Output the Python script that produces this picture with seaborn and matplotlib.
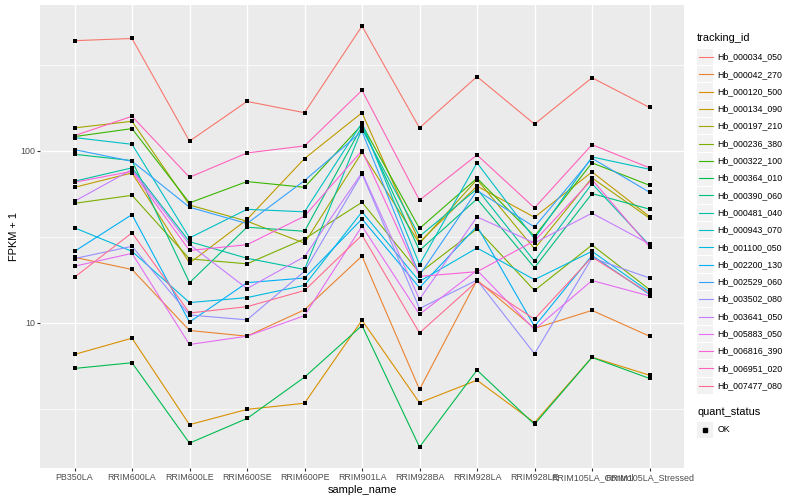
import numpy as np
import pandas as pd
import seaborn as sns
import matplotlib.pyplot as plt
from matplotlib.ticker import FixedLocator, NullFormatter
from matplotlib.patches import Rectangle
from matplotlib.lines import Line2D

plt.rcParams['font.family'] = ['Liberation Sans', 'DejaVu Sans']

samples = ["PB350LA", "RRIM600LA", "RRIM600LE", "RRIM600SE", "RRIM600PE",
           "RRIM901LA", "RRIM928BA", "RRIM928LA", "RRIM928LE",
           "RRIM105LA_Control", "RRIM105LA_Stressed"]

tracking_ids = ["Hb_000034_050", "Hb_000042_270", "Hb_000120_500", "Hb_000134_090",
                "Hb_000197_210", "Hb_000236_380", "Hb_000322_100", "Hb_000364_010",
                "Hb_000390_060", "Hb_000481_040", "Hb_000943_070", "Hb_001100_050",
                "Hb_002200_130", "Hb_002529_060", "Hb_003502_080", "Hb_003641_050",
                "Hb_005883_050", "Hb_006816_390", "Hb_006951_020", "Hb_007477_080"]

# FPKM + 1 per sample
hb_000034_050 = [435, 448, 113.5, 193, 166, 529, 135.5, 269, 142.5, 265, 178]
hb_000042_270 = [24.0, 20.4, 9.02, 8.36, 11.9, 24.4, 4.10, 17.7, 9.27, 11.8, 8.36]
hb_000120_500 = [6.55, 8.14, 2.56, 3.14, 3.41, 10.35, 3.43, 4.64, 2.63, 6.31, 4.96]
hb_000134_090 = [61.2, 74.2, 22.2, 39.8, 89.9, 166, 29.4, 62.2, 41.0, 75.2, 41.4]
hb_000197_210 = [135.5, 148, 48.3, 38.9, 29.0, 97.7, 28.9, 67.9, 26.9, 69.4, 40.5]
hb_000236_380 = [49.4, 55.0, 23.5, 22.0, 30.7, 50.1, 19.5, 35.1, 15.4, 28.3, 15.6]
hb_000322_100 = [120.6, 134.2, 49.7, 66.1, 61.2, 141.6, 35.3, 69.1, 31.8, 84.9, 62.9]
hb_000364_010 = [5.43, 5.86, 2.00, 2.78, 4.83, 9.64, 1.90, 5.31, 2.57, 6.29, 4.75]
hb_000390_060 = [95.2, 87.5, 17.1, 35.9, 34.0, 138.4, 26.3, 52.4, 20.9, 56.3, 45.7]
hb_000481_040 = [66.4, 79.4, 29.6, 23.7, 20.4, 133.6, 31.8, 59.9, 22.8, 64.3, 28.2]
hb_000943_070 = [119.0, 108.8, 31.1, 45.6, 44.1, 144.8, 21.8, 84.9, 30.8, 91.9, 77.9]
hb_001100_050 = [35.6, 26.0, 13.1, 14.0, 16.5, 44.1, 17.4, 27.2, 17.8, 26.0, 15.1]
hb_002200_130 = [26.0, 42.5, 10.1, 17.1, 18.2, 40.1, 16.0, 36.4, 9.52, 24.6, 14.6]
hb_002529_060 = [101.3, 86.7, 46.9, 37.7, 67.0, 129.4, 18.9, 58.6, 36.0, 90.2, 57.3]
hb_003502_080 = [23.6, 27.8, 11.1, 10.4, 19.9, 73.5, 12.1, 17.7, 6.61, 23.8, 18.2]
hb_003641_050 = [50.8, 77.6, 28.5, 15.8, 24.2, 74.5, 13.7, 41.2, 29.1, 43.3, 28.7]
hb_005883_050 = [21.3, 25.3, 7.48, 8.36, 11.0, 36.4, 11.2, 20.2, 9.14, 17.6, 14.3]
hb_006816_390 = [65.5, 75.8, 26.3, 28.4, 41.6, 100, 18.6, 19.8, 29.9, 67.9, 27.6]
hb_006951_020 = [122.2, 158.2, 70.0, 96.9, 106.5, 224, 51.5, 94.4, 46.5, 108.3, 79.4]
hb_007477_080 = [18.4, 33.3, 11.4, 12.4, 15.4, 32.3, 8.73, 17.4, 10.5, 24.1, 14.8]

series = [hb_000034_050, hb_000042_270, hb_000120_500, hb_000134_090, hb_000197_210,
          hb_000236_380, hb_000322_100, hb_000364_010, hb_000390_060, hb_000481_040,
          hb_000943_070, hb_001100_050, hb_002200_130, hb_002529_060, hb_003502_080,
          hb_003641_050, hb_005883_050, hb_006816_390, hb_006951_020, hb_007477_080]

# ggplot2 default hue palette for 20 levels
colors = ["#F8766D", "#EA8331", "#D89000", "#C09B00", "#A3A500", "#7CAE00", "#39B600",
          "#00BB4E", "#00BF7D", "#00C1A3", "#00BFC4", "#00BAE0", "#00B0F6", "#35A2FF",
          "#9590FF", "#C77CFF", "#E76BF3", "#FA62DB", "#FF62BC", "#FF6C91"]
palette = dict(zip(tracking_ids, colors))

rows = []
for s_i, s in enumerate(samples):
    for tid, vals in zip(tracking_ids, series):
        rows.append({"sample_name": s, "tracking_id": tid, "value": vals[s_i]})
df = pd.DataFrame(rows)

fig = plt.figure(figsize=(8, 5), dpi=100)
ax = fig.add_axes([40 / 800, 1 - 468 / 500, 644 / 800, 463 / 500])
ax.set_facecolor("#EBEBEB")

sns.lineplot(data=df, x="sample_name", y="value", hue="tracking_id", palette=palette,
             estimator=None, sort=False, linewidth=0.8, legend=False, ax=ax, zorder=3)
sns.scatterplot(data=df, x="sample_name", y="value", color="black", marker="s",
                s=9, linewidth=0, legend=False, ax=ax, zorder=4)

ax.set_yscale("log")
lo, hi = np.log10(df["value"].min()), np.log10(df["value"].max())
pad = (hi - lo) * 0.05
ax.set_ylim(10 ** (lo - pad), 10 ** (hi + pad))
ax.set_xlim(-0.6, len(samples) - 1 + 0.6)

ax.yaxis.set_major_locator(FixedLocator([10, 100]))
ax.set_yticklabels(["10", "100"])
ax.yaxis.set_minor_locator(FixedLocator([10 ** 0.5, 10 ** 1.5, 10 ** 2.5]))
ax.yaxis.set_minor_formatter(NullFormatter())

ax.grid(True, which="major", color="white", linewidth=1.0, zorder=0)
ax.grid(True, which="minor", axis="y", color="white", linewidth=0.5, zorder=0)
ax.set_axisbelow(True)
for sp in ax.spines.values():
    sp.set_visible(False)

ax.tick_params(which="major", length=2.0, width=0.8, color="#333333",
               labelsize=6.4, labelcolor="#4D4D4D", pad=1.6)
ax.tick_params(which="minor", length=0)
ax.set_xlabel("sample_name", fontsize=7.9, labelpad=2)
ax.set_ylabel("FPKM + 1", fontsize=7.9, labelpad=1)

# legend drawn in figure pixel coordinates, ggplot style
lax = fig.add_axes([0, 0, 1, 1], zorder=5)
lax.set_xlim(0, 800)
lax.set_ylim(500, 0)
lax.axis("off")
lax.text(697, 38, "tracking_id", fontsize=7.9, va="center", ha="left")
key = 17.3
for i, tid in enumerate(tracking_ids):
    yc = 57 + i * key
    lax.add_patch(Rectangle((697, yc - key / 2 + 0.5), key - 1, key - 1,
                            facecolor="#F2F2F2", edgecolor="none"))
    lax.add_line(Line2D([698.5, 712.5], [yc, yc], color=palette[tid], linewidth=0.8))
    lax.text(717.5, yc, tid, fontsize=6.3, va="center", ha="left")

lax.text(697, 412, "quant_status", fontsize=7.9, va="center", ha="left")
lax.add_patch(Rectangle((697, 430 - key / 2 + 0.5), key - 1, key - 1,
                        facecolor="#F2F2F2", edgecolor="none"))
lax.add_line(Line2D([705.2], [430], marker="s", markersize=2.8, color="black",
                    linestyle="none"))
lax.text(717.5, 430, "OK", fontsize=6.3, va="center", ha="left")

fig.savefig("out.png", dpi=100)
